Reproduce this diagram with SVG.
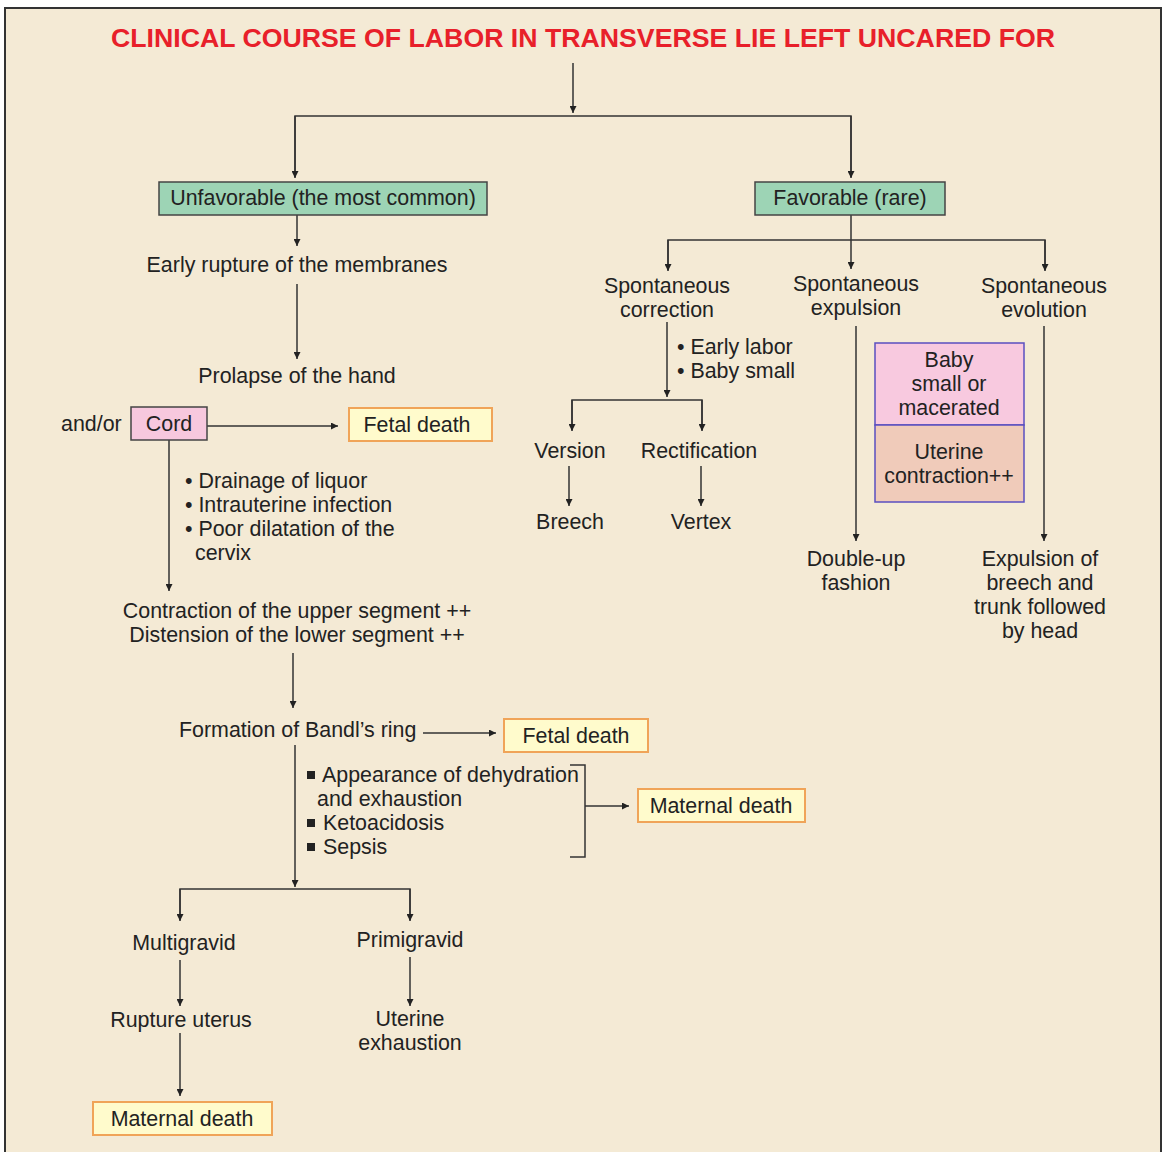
<svg xmlns="http://www.w3.org/2000/svg" width="1164" height="1152" viewBox="0 0 1164 1152">
<defs>
<marker id="ah" viewBox="0 0 10 10" refX="10" refY="5" markerWidth="8" markerHeight="7" markerUnits="userSpaceOnUse" orient="auto">
<path d="M0,0 L10,5 L0,10 z" fill="#222"/>
</marker>
<style>
.t{font-family:"Liberation Sans",Arial,sans-serif;font-size:21.4px;fill:#222}
.c{text-anchor:middle}
.ln{fill:none;stroke:#333;stroke-width:1.5}
.ar{fill:none;stroke:#333;stroke-width:1.5;marker-end:url(#ah)}
.green{fill:#9DD4B5;stroke:#444;stroke-width:1.5}
.pink{fill:#F7C8DE;stroke:#444;stroke-width:1.5}
.yel{fill:#FFFBCC;stroke:#F0A458;stroke-width:2}
.bp{fill:#F8C9DF;stroke:#5A4FC0;stroke-width:1.5}
.bs{fill:#F0CBBA;stroke:#5A4FC0;stroke-width:1.5}
</style>
</defs>
<rect x="0" y="0" width="1164" height="1152" fill="#ffffff"/>
<rect x="5" y="8" width="1156" height="1150" fill="#F4EAD5" stroke="#333" stroke-width="2"/>
<text id="title" x="583" y="47" text-anchor="middle" font-family="Liberation Sans,Arial,sans-serif" font-size="26" font-weight="bold" fill="#E8202A" textLength="944" lengthAdjust="spacingAndGlyphs">CLINICAL COURSE OF LABOR IN TRANSVERSE LIE LEFT UNCARED FOR</text>

<g id="connectors">
<line class="ar" x1="573" y1="63" x2="573" y2="113"/>
<polyline class="ln" points="295,177 295,116 851,116 851,177"/>
<line class="ar" x1="295" y1="116" x2="295" y2="178"/>
<line class="ar" x1="851" y1="116" x2="851" y2="178"/>
<line class="ar" x1="297" y1="215" x2="297" y2="246"/>
<line class="ar" x1="297" y1="284" x2="297" y2="359"/>
<line class="ar" x1="207" y1="426" x2="338" y2="426"/>
<line class="ar" x1="169" y1="440" x2="169" y2="591"/>
<line class="ar" x1="293" y1="653" x2="293" y2="708"/>
<line class="ar" x1="423" y1="733" x2="496" y2="733"/>
<line class="ar" x1="295" y1="745" x2="295" y2="887"/>
<polyline class="ln" points="570,765 585,765 585,857 570,857"/>
<line class="ar" x1="585" y1="806" x2="629" y2="806"/>
<polyline class="ln" points="180,920 180,889 410,889 410,920"/>
<line class="ar" x1="180" y1="889" x2="180" y2="921"/>
<line class="ar" x1="410" y1="889" x2="410" y2="921"/>
<line class="ar" x1="180" y1="960" x2="180" y2="1006"/>
<line class="ar" x1="180" y1="1033" x2="180" y2="1096"/>
<line class="ar" x1="410" y1="957" x2="410" y2="1006"/>
<line class="ar" x1="851" y1="215" x2="851" y2="269"/>
<polyline class="ln" points="668,270 668,240 1045,240 1045,270"/>
<line class="ar" x1="668" y1="240" x2="668" y2="271"/>
<line class="ar" x1="1045" y1="240" x2="1045" y2="271"/>
<line class="ar" x1="667" y1="322" x2="667" y2="397"/>
<polyline class="ln" points="572,430 572,400 702,400 702,430"/>
<line class="ar" x1="572" y1="400" x2="572" y2="431"/>
<line class="ar" x1="702" y1="400" x2="702" y2="431"/>
<line class="ar" x1="569" y1="466" x2="569" y2="506"/>
<line class="ar" x1="701" y1="466" x2="701" y2="506"/>
<line class="ar" x1="856" y1="326" x2="856" y2="541"/>
<line class="ar" x1="1044" y1="326" x2="1044" y2="541"/>
</g>

<g id="unfavorable">
<rect class="green" x="159" y="182" width="328" height="33"/>
<text class="t c" x="323" y="205">Unfavorable (the most common)</text>
</g>
<g id="favorable">
<rect class="green" x="755" y="182" width="190" height="33"/>
<text class="t c" x="850" y="205">Favorable (rare)</text>
</g>
<g id="early-rupture"><text class="t c" x="297" y="272">Early rupture of the membranes</text></g>
<g id="prolapse"><text class="t c" x="297" y="383">Prolapse of the hand</text></g>
<g id="andor"><text class="t" x="61" y="431">and/or</text></g>
<g id="cord">
<rect class="pink" x="131" y="407" width="76" height="33"/>
<text class="t c" x="169" y="431">Cord</text>
</g>
<g id="fetal-death-1">
<rect class="yel" x="349" y="408" width="143" height="33"/>
<text class="t c" x="417" y="432">Fetal death</text>
</g>
<g id="bullets-1">
<text class="t" x="185" y="488">• Drainage of liquor</text>
<text class="t" x="185" y="512">• Intrauterine infection</text>
<text class="t" x="185" y="536">• Poor dilatation of the</text>
<text class="t" x="195" y="560">cervix</text>
</g>
<g id="contraction">
<text class="t c" x="297" y="618">Contraction of the upper segment ++</text>
<text class="t c" x="297" y="642">Distension of the lower segment ++</text>
</g>
<g id="bandl"><text class="t" x="179" y="737">Formation of Bandl’s ring</text></g>
<g id="fetal-death-2">
<rect class="yel" x="504" y="719" width="144" height="33"/>
<text class="t c" x="576" y="743">Fetal death</text>
</g>
<g id="bullets-2">
<rect x="307" y="771" width="8" height="8" fill="#222"/>
<text class="t" x="322" y="782">Appearance of dehydration</text>
<text class="t" x="317" y="806">and exhaustion</text>
<rect x="307" y="819" width="8" height="8" fill="#222"/>
<text class="t" x="323" y="830">Ketoacidosis</text>
<rect x="307" y="843" width="8" height="8" fill="#222"/>
<text class="t" x="323" y="854">Sepsis</text>
</g>
<g id="maternal-death-1">
<rect class="yel" x="638" y="789" width="167" height="33"/>
<text class="t c" x="721" y="813">Maternal death</text>
</g>
<g id="multigravid"><text class="t c" x="184" y="950">Multigravid</text></g>
<g id="primigravid"><text class="t c" x="410" y="947">Primigravid</text></g>
<g id="rupture"><text class="t c" x="181" y="1027">Rupture uterus</text></g>
<g id="uterine-exhaustion">
<text class="t c" x="410" y="1026">Uterine</text>
<text class="t c" x="410" y="1050">exhaustion</text>
</g>
<g id="maternal-death-2">
<rect class="yel" x="93" y="1102" width="179" height="33"/>
<text class="t c" x="182" y="1126">Maternal death</text>
</g>

<g id="sp-correction">
<text class="t c" x="667" y="293">Spontaneous</text>
<text class="t c" x="667" y="317">correction</text>
</g>
<g id="sp-expulsion">
<text class="t c" x="856" y="291">Spontaneous</text>
<text class="t c" x="856" y="315">expulsion</text>
</g>
<g id="sp-evolution">
<text class="t c" x="1044" y="293">Spontaneous</text>
<text class="t c" x="1044" y="317">evolution</text>
</g>
<g id="bullets-3">
<text class="t" x="677" y="354">• Early labor</text>
<text class="t" x="677" y="378">• Baby small</text>
</g>
<g id="version"><text class="t c" x="570" y="458">Version</text></g>
<g id="rectification"><text class="t c" x="699" y="458">Rectification</text></g>
<g id="breech"><text class="t c" x="570" y="529">Breech</text></g>
<g id="vertex"><text class="t c" x="701" y="529">Vertex</text></g>
<g id="baby-box">
<rect class="bp" x="875" y="343" width="149" height="82"/>
<rect class="bs" x="875" y="425" width="149" height="77"/>
<text class="t c" x="949" y="367">Baby</text>
<text class="t c" x="949" y="391">small or</text>
<text class="t c" x="949" y="415">macerated</text>
<text class="t c" x="949" y="459">Uterine</text>
<text class="t c" x="949" y="483">contraction++</text>
</g>
<g id="double-up">
<text class="t c" x="856" y="566">Double-up</text>
<text class="t c" x="856" y="590">fashion</text>
</g>
<g id="expulsion-breech">
<text class="t c" x="1040" y="566">Expulsion of</text>
<text class="t c" x="1040" y="590">breech and</text>
<text class="t c" x="1040" y="614">trunk followed</text>
<text class="t c" x="1040" y="638">by head</text>
</g>
</svg>
